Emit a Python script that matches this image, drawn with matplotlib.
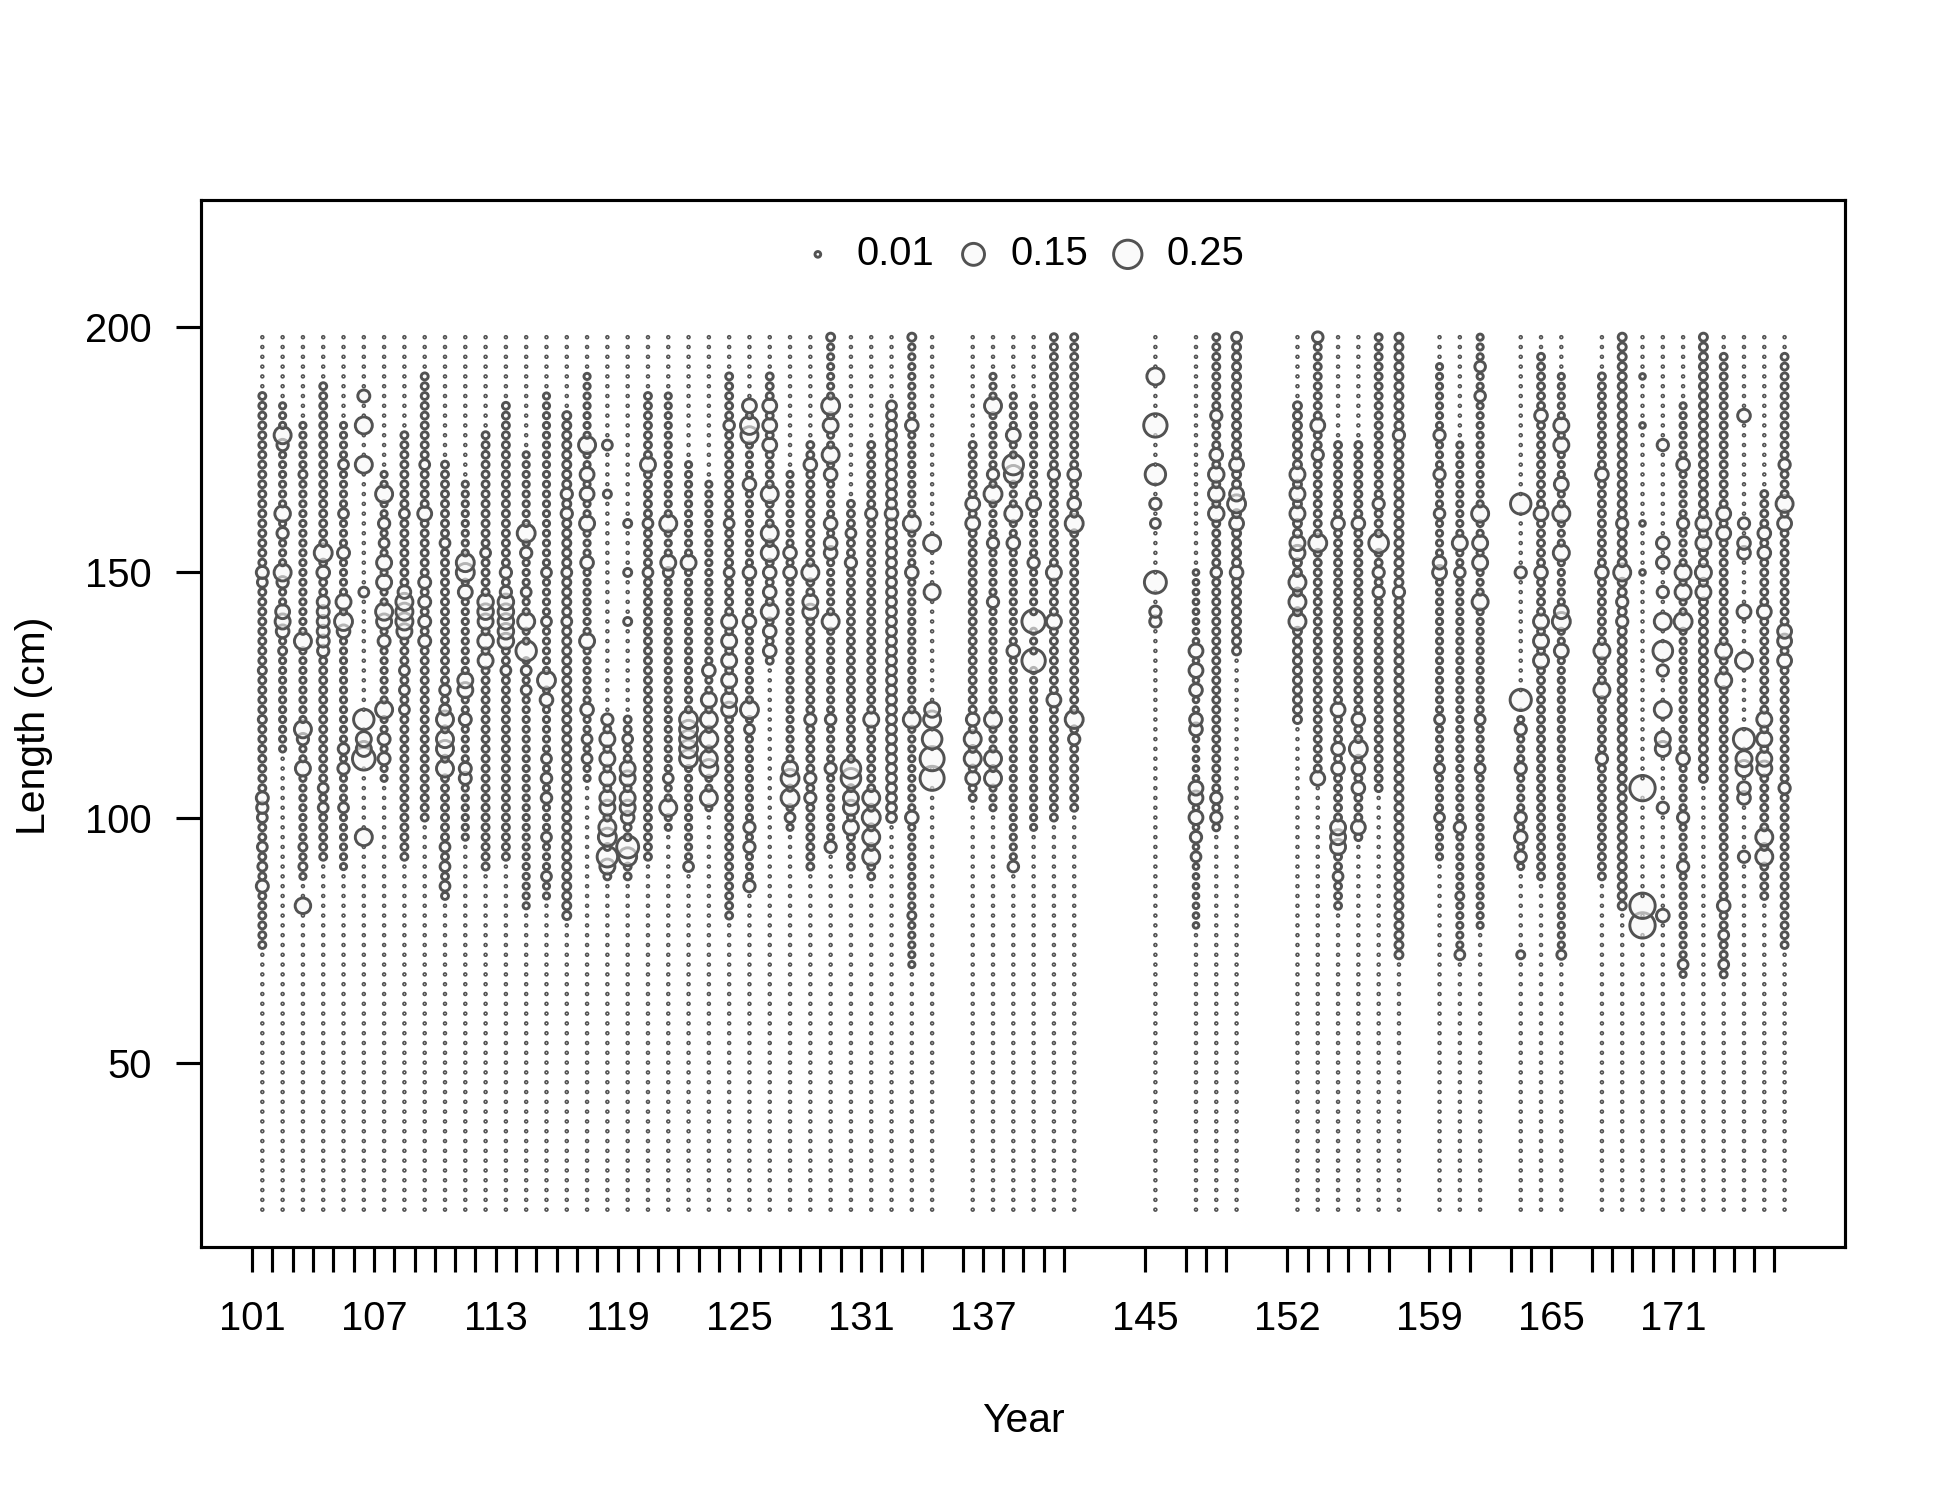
"""
Length composition bubble plot (proportion at length by year).
Bubble area scales with the observed proportion.
"""

import numpy as np
import matplotlib.pyplot as plt

plt.rcParams["font.family"] = ["Liberation Sans", "DejaVu Sans"]

# years with data (ticks); bubbles sit at mid-year
years = (list(range(101, 135)) + list(range(136, 142)) + [145, 147, 148, 149]
         + list(range(152, 158)) + [159, 160, 161, 163, 164, 165]
         + list(range(167, 177)))
labelled_years = [101, 107, 113, 119, 125, 131, 137, 145, 152, 159, 165, 171]

# length bins (cm)
lengths = np.arange(20, 200, 2)

# per year: band of small open circles (lo, hi, proportion), None = dots only
span_lo = [74, 114, 88, 92, 90, None, 108, 92, 100, 84, 96, 90, 92, 82, 84, 80,
           108, 88, 88, 92, 98, 90, 102, 80, 86, 132, 98, 90, 94, 90, 88, 100,
           70, None, 104, 102, 90, 98, 100, 102, None, 78, 98, 134, 120, 108,
           82, 96, 106, 72, 92, 72, 78, 90, 88, 72, 88, 82, None, None, 68,
           108, 68, None, 84, 74]
span_hi = [186, 184, 180, 188, 180, None, 170, 178, 190, 172, 168, 178, 184,
           174, 186, 182, 190, 120, 120, 186, 186, 172, 168, 190, 184, 190,
           170, 176, 198, 164, 176, 184, 198, None, 176, 190, 186, 184, 198,
           198, None, 150, 198, 198, 184, 198, 176, 176, 198, 198, 192, 176,
           198, 120, 194, 190, 190, 198, None, None, 184, 198, 194, None, 166,
           194]
base_prop = [0.015, 0.012, 0.012, 0.015, 0.012, 0, 0.012, 0.015, 0.015, 0.015,
             0.012, 0.015, 0.015, 0.012, 0.012, 0.02, 0.012, 0.015, 0.015,
             0.015, 0.012, 0.012, 0.012, 0.015, 0.012, 0.015, 0.012, 0.015,
             0.012, 0.015, 0.015, 0.03, 0.012, 0, 0.015, 0.012, 0.012, 0.012,
             0.015, 0.015, 0, 0.01, 0.015, 0.02, 0.02, 0.015, 0.015, 0.015,
             0.015, 0.02, 0.012, 0.012, 0.012, 0.012, 0.015, 0.012, 0.015,
             0.02, 0, 0, 0.012, 0.02, 0.015, 0, 0.015, 0.015]

# larger bubbles: {length: proportion}
peaks = [
    {150: .045, 148: .03, 130: .02, 120: .02, 104: .045, 102: .04, 100: .03, 94: .03, 90: .025, 86: .045},
    {178: .09, 176: .04, 162: .075, 158: .04, 150: .09, 148: .04, 142: .06, 140: .07, 138: .05, 134: .02},
    {170: .02, 136: .09, 118: .09, 116: .04, 110: .07, 94: .02, 90: .02, 82: .075},
    {154: .1, 150: .05, 144: .045, 142: .045, 140: .045, 138: .045, 136: .045, 134: .04, 106: .03, 102: .03},
    {172: .03, 162: .03, 154: .045, 144: .07, 140: .1, 138: .05, 114: .035, 110: .04, 102: .03},
    {186: .045, 180: .09, 172: .09, 146: .03, 120: .13, 116: .07, 114: .07, 112: .16, 96: .09},
    {166: .09, 160: .04, 156: .03, 152: .07, 148: .07, 142: .09, 140: .07, 136: .045, 122: .09, 116: .045, 112: .045},
    {162: .03, 146: .05, 144: .09, 142: .09, 140: .09, 138: .07, 130: .03, 126: .03, 122: .03},
    {172: .03, 162: .06, 148: .045, 144: .045, 140: .045, 136: .045},
    {156: .03, 126: .035, 122: .035, 120: .09, 116: .09, 114: .09, 110: .09, 94: .03, 90: .03, 86: .03},
    {152: .1, 150: .1, 146: .06, 128: .07, 126: .07, 120: .045, 110: .045, 108: .045},
    {154: .03, 144: .075, 142: .075, 140: .07, 136: .075, 132: .07},
    {150: .04, 146: .04, 144: .075, 142: .075, 140: .075, 138: .075, 136: .075, 130: .03},
    {158: .1, 154: .04, 146: .03, 140: .09, 134: .13, 130: .03, 126: .03},
    {150: .03, 140: .03, 128: .1, 124: .05, 112: .03, 108: .035, 104: .035, 96: .03, 88: .03},
    {166: .04, 162: .04, 150: .03, 140: .03},
    {176: .09, 170: .06, 166: .06, 160: .07, 152: .05, 136: .07, 122: .05, 116: .03, 112: .03},
    {176: .03, 166: .02, 120: .04, 116: .07, 112: .07, 108: .07, 104: .07, 102: .07, 98: .09, 96: .1, 92: .13, 90: .07},
    {160: .02, 150: .02, 140: .02, 116: .03, 110: .07, 108: .07, 104: .07, 102: .07, 100: .05, 94: .15, 92: .1},
    {172: .07, 160: .03, 150: .03},
    {160: .09, 152: .07, 150: .03, 108: .03, 102: .09},
    {152: .07, 120: .1, 118: .1, 116: .1, 114: .1, 112: .1, 90: .03},
    {130: .05, 124: .07, 120: .09, 116: .1, 112: .09, 110: .1, 104: .09},
    {180: .035, 160: .03, 150: .03, 140: .07, 136: .07, 132: .07, 128: .07, 124: .07, 122: .07},
    {184: .06, 180: .1, 178: .09, 168: .05, 150: .05, 140: .05, 122: .1, 118: .03, 98: .04, 94: .04, 86: .04},
    {184: .06, 180: .06, 176: .06, 166: .09, 158: .09, 154: .09, 150: .05, 146: .05, 142: .09, 138: .05, 134: .05},
    {154: .05, 150: .05, 110: .07, 108: .1, 104: .1, 100: .03},
    {172: .05, 150: .09, 144: .07, 142: .07, 120: .04, 108: .04, 104: .04},
    {198: .02, 184: .1, 180: .07, 174: .09, 170: .05, 160: .05, 156: .05, 154: .05, 140: .09, 120: .035, 110: .04, 94: .04},
    {158: .03, 152: .04, 110: .12, 108: .12, 104: .07, 102: .07, 98: .07},
    {162: .04, 120: .07, 104: .09, 100: .1, 96: .09, 92: .09},
    {162: .05},
    {198: .02, 180: .05, 160: .09, 150: .05, 120: .09, 100: .05, 80: .02},
    {156: .09, 146: .08, 122: .07, 120: .09, 116: .12, 112: .18, 108: .18},
    {164: .06, 160: .06, 120: .05, 116: .09, 112: .09, 108: .06},
    {184: .09, 170: .04, 166: .1, 156: .04, 144: .04, 120: .09, 112: .09, 108: .09},
    {178: .06, 172: .13, 170: .1, 162: .09, 156: .05, 134: .05, 90: .035},
    {164: .06, 152: .04, 140: .17, 132: .17},
    {170: .04, 150: .07, 140: .07, 124: .06},
    {170: .05, 164: .05, 160: .1, 120: .1, 116: .04},
    {190: .09, 180: .17, 170: .13, 164: .04, 160: .03, 148: .15, 142: .04, 140: .04},
    {134: .06, 130: .06, 126: .05, 120: .05, 118: .05, 106: .06, 104: .06, 100: .06, 96: .04, 92: .03},
    {182: .04, 174: .05, 170: .075, 166: .075, 162: .075, 150: .035, 104: .04, 100: .04},
    {198: .03, 172: .06, 166: .06, 164: .1, 160: .06, 150: .05},
    {170: .07, 166: .07, 162: .07, 156: .07, 154: .07, 148: .09, 144: .09, 140: .09},
    {198: .035, 180: .06, 174: .04, 156: .1, 108: .06},
    {160: .05, 122: .06, 114: .05, 110: .05, 98: .07, 96: .07, 94: .07, 88: .03},
    {160: .05, 120: .05, 114: .1, 110: .05, 106: .05, 98: .06},
    {164: .04, 156: .12, 150: .04, 146: .04},
    {178: .04, 146: .04},
    {178: .04, 170: .04, 162: .035, 152: .05, 150: .06, 120: .03, 110: .03, 100: .03},
    {156: .07, 150: .035, 98: .04, 84: .02, 72: .03},
    {192: .035, 186: .035, 162: .09, 156: .07, 152: .07, 144: .08, 120: .03, 110: .03},
    {164: .13, 150: .04, 124: .14, 118: .04, 110: .04, 100: .04, 96: .05, 92: .04, 72: .02},
    {182: .05, 162: .06, 150: .05, 140: .07, 136: .07, 132: .07},
    {180: .07, 176: .07, 168: .06, 162: .09, 154: .08, 142: .06, 140: .1, 134: .06, 72: .025},
    {170: .05, 150: .05, 134: .08, 126: .08, 112: .04},
    {160: .04, 150: .09, 144: .04, 140: .04},
    {190: .01, 180: .01, 160: .01, 150: .01, 106: .2, 82: .2, 78: .2},
    {176: .04, 156: .05, 152: .05, 146: .04, 140: .09, 134: .12, 130: .04, 122: .09, 116: .07, 114: .07, 102: .04, 80: .05},
    {172: .05, 160: .04, 150: .08, 146: .08, 140: .1, 112: .05, 100: .04, 90: .04, 70: .03},
    {160: .07, 156: .07, 150: .08, 146: .07},
    {162: .06, 158: .06, 134: .08, 128: .08, 82: .05, 76: .03, 70: .03},
    {182: .05, 160: .04, 156: .05, 154: .05, 142: .06, 132: .09, 116: .14, 112: .08, 110: .08, 106: .05, 104: .05, 92: .04},
    {158: .05, 154: .05, 142: .06, 120: .07, 116: .07, 112: .07, 110: .07, 96: .09, 92: .09},
    {172: .04, 164: .09, 160: .06, 138: .06, 136: .06, 132: .06, 106: .04},
]

legend_values = [0.01, 0.15, 0.25]

TINY = 0.0008          # empty bins still show as a dot
SIZE_SCALE = 185.0     # marker area (pt^2) per unit proportion
EDGE = "#525252"
FACE = (0.97, 0.97, 0.97, 0.6)
LW = 0.7


def build_points():
    xs, ys, zs = [], [], []
    for i, yr in enumerate(years):
        lo, hi, base = span_lo[i], span_hi[i], base_prop[i]
        for L in lengths:
            z = TINY
            if lo is not None and lo <= L <= hi:
                z = base
            z = peaks[i].get(int(L), z)
            xs.append(yr + 0.5)
            ys.append(L)
            zs.append(z)
    return np.array(xs), np.array(ys), np.array(zs)


def main():
    x, y, z = build_points()

    fig = plt.figure(figsize=(6.5, 5), dpi=300)
    ax = fig.add_axes([0.1033, 0.1684, 0.8431, 0.6983])

    ax.scatter(x, y, s=SIZE_SCALE * z, facecolors=FACE, edgecolors=EDGE,
               linewidths=LW, zorder=2)

    ax.set_xlim(98.5, 179.5)
    ax.set_ylim(12.3, 226.0)

    ax.set_xticks(years)
    ax.set_xticklabels([str(v) if v in labelled_years else "" for v in years])
    ax.set_yticks([50, 100, 150, 200])
    ax.tick_params(axis="both", direction="out", length=5.9, width=0.75,
                   labelsize=9.6, colors="black")
    ax.tick_params(axis="x", pad=6.7)
    ax.tick_params(axis="y", pad=6.0)
    for sp in ax.spines.values():
        sp.set_linewidth(0.75)

    # legend row at the top of the panel
    leg_x = [128.87, 136.54, 144.14]
    txt_x = [130.79, 138.38, 146.04]
    leg_y = 214.9
    ax.scatter(leg_x, [leg_y] * 3, s=SIZE_SCALE * np.array(legend_values),
               facecolors=FACE, edgecolors=EDGE, linewidths=LW, zorder=3)
    for tx, v in zip(txt_x, legend_values):
        ax.text(tx, leg_y, f"{v:.2f}", ha="left", va="center", fontsize=9.6)

    fig.text(0.525, 0.0527, "Year", ha="center", va="center", fontsize=9.8)
    fig.text(0.0172, 0.5163, "Length (cm)", ha="center", va="center",
             rotation=90, fontsize=9.8)

    fig.savefig("out.png", dpi=300)


if __name__ == "__main__":
    main()
